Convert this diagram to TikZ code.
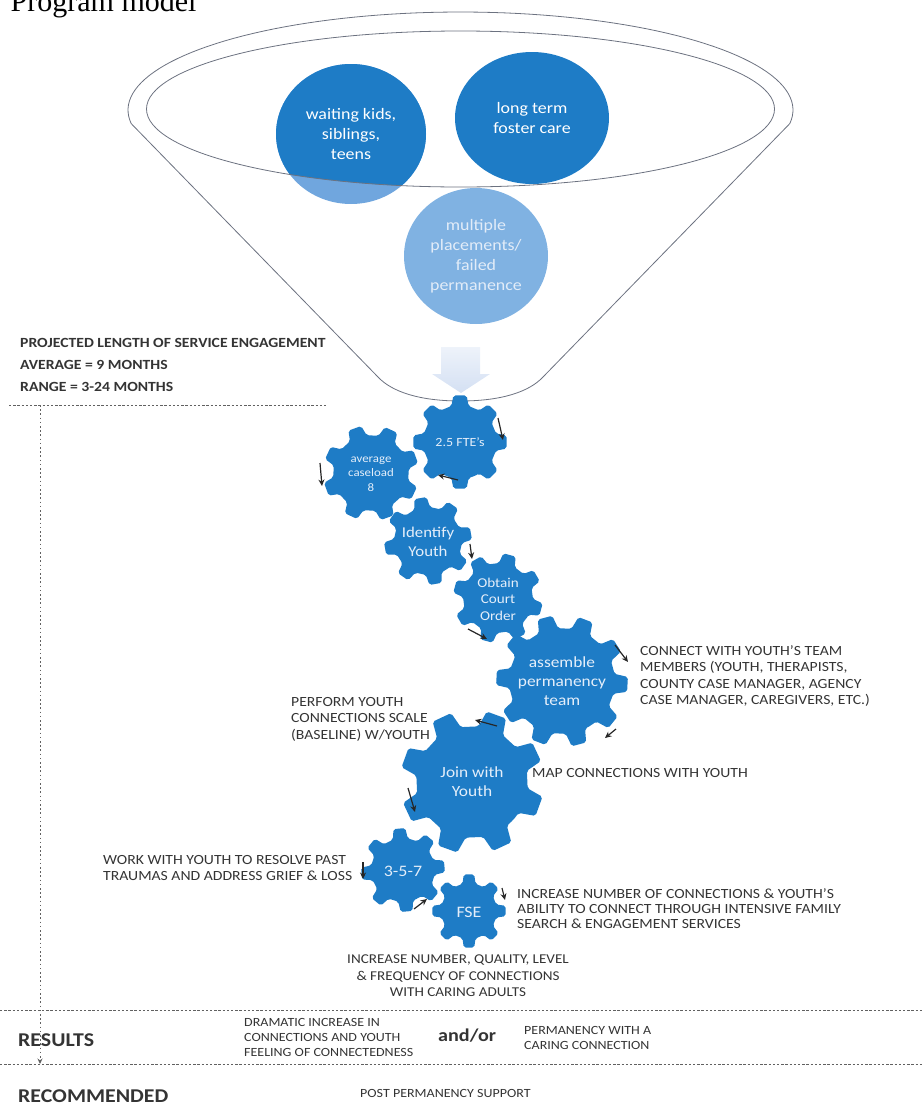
\documentclass[tikz,border=0pt]{standalone}
\usepackage{fontspec}
\setmainfont{Carlito}[FakeStretch=1.12]
\newfontfamily\titlefont{Liberation Serif}
\usetikzlibrary{calc,arrows.meta,shapes.geometric}

\definecolor{gearblue}{RGB}{30,124,198}
\definecolor{paleblue}{RGB}{112,166,222}
\definecolor{fadeblue}{RGB}{128,178,226}
\definecolor{fadetext}{RGB}{226,236,248}
\definecolor{geartext}{RGB}{228,238,250}
\definecolor{rimgray}{RGB}{108,114,128}
\definecolor{inkgray}{RGB}{52,52,52}
\definecolor{arrowpale}{RGB}{212,224,243}

% cog wheel: x, y, root radius, tip radius, teeth, rotation
\newcommand{\cogwheel}[6]{%
  \begin{scope}[shift={(#1,#2)}]
    \pgfmathsetmacro{\cogpitch}{360/#5}
    \fill[gearblue, rounded corners=2pt] ({#6-0.5*\cogpitch}:#3)
      \foreach \k in {1,...,#5}{
        -- ({#6+(\k-1)*\cogpitch-0.30*\cogpitch}:#3)
        -- ({#6+(\k-1)*\cogpitch-0.18*\cogpitch}:#4)
        -- ({#6+(\k-1)*\cogpitch+0.18*\cogpitch}:#4)
        -- ({#6+(\k-1)*\cogpitch+0.30*\cogpitch}:#3)
      } -- cycle;
  \end{scope}}

\tikzset{
  rim/.style={draw=rimgray, line width=0.8pt},
  blobtext/.style={inner sep=0pt, align=center, text=white,
    font=\fontsize{16}{20}\selectfont},
  gearlabel/.style={inner sep=0pt, align=center, text=geartext},
  note/.style={inner sep=0pt, align=left, text=inkgray,
    font=\fontsize{14}{16.5}\selectfont},
  smallnote/.style={inner sep=0pt, align=left, text=inkgray,
    font=\fontsize{12.5}{15}\selectfont},
  heading/.style={inner sep=0pt, text=inkgray,
    font=\bfseries\fontsize{19.5}{22}\selectfont},
  spin/.style={-{Stealth[length=6.5pt,width=6pt]}, line width=1.2pt, draw=black!85},
  sep/.style={draw=black!62, line width=0.9pt, dash pattern=on 2.4pt off 1.8pt},
}

\begin{document}
\begin{tikzpicture}[x=1pt,y=-1pt]
\useasboundingbox (0,0) rectangle (922,1106);

% caption line at the top edge
\node[anchor=base west, inner sep=0pt, font={\titlefont\fontsize{30}{30}\selectfont}]
  (title) at (-22,11) {1. Program model};

% ---------------- funnel ----------------
\draw[rim, line join=round]
  plot[domain=172:368, samples=90] ({460.5+332.5*cos(\x)},{110+98*sin(\x)})
  -- (543,377)
  .. controls (529,392) and (501,401) .. (460.5,401)
  .. controls (420,401) and (392,392) .. (378,377)
  -- cycle;

% groups that enter the funnel
\fill[paleblue] (351,134) ellipse[x radius=75, y radius=70];
\begin{scope}
  \clip (460.5,109) ellipse[x radius=314, y radius=78];
  \fill[gearblue] (351,134) ellipse[x radius=75, y radius=70];
\end{scope}
\node[ellipse, minimum width=150pt, minimum height=140pt, blobtext] (waiting)
  at (351,134) {waiting kids,\\siblings,\\teens};
\node[ellipse, minimum width=154pt, minimum height=132pt, fill=gearblue, blobtext]
  (longterm) at (532,118) {long term\\foster care};
\node[ellipse, minimum width=144pt, minimum height=136pt, fill=fadeblue, blobtext,
  text=fadetext] (multiple) at (476,256) {multiple\\placements/\\failed\\permanence};

% inner rim of the funnel mouth
\draw[rim] (460.5,109) ellipse[x radius=314, y radius=78];

% flow arrow inside the funnel
\shade[top color=arrowpale!40, bottom color=arrowpale]
  (441,347) -- (480,347) -- (480,374) -- (490,374) -- (461,393)
  -- (432,374) -- (441,374) -- cycle;

% ---------------- cog wheels ----------------
\cogwheel{460}{442}{37}{47}{8}{90}
\cogwheel{371}{473}{38}{48}{8}{70}
\cogwheel{428}{541}{34}{44}{8}{80}
\cogwheel{498}{598}{35}{45}{8}{60}
\cogwheel{562}{681}{53}{66}{10}{75}
\cogwheel{472}{782}{56}{72}{8}{65}
\cogwheel{403}{870}{32}{42}{8}{85}
\cogwheel{469}{911}{28}{37}{8}{90}

\node[gearlabel, font=\fontsize{12.5}{15}\selectfont] (fte) at (460,442) {2.5 FTE's};
\node[gearlabel, font=\fontsize{11.5}{14.5}\selectfont] (caseload) at (371,474) {average\\caseload\\8};
\node[gearlabel, font=\fontsize{15}{19}\selectfont] (identify) at (428,542) {Identify\\Youth};
\node[gearlabel, font=\fontsize{13.5}{16.5}\selectfont] (court) at (498,599) {Obtain\\Court\\Order};
\node[gearlabel, font=\fontsize{15.5}{19}\selectfont] (assemble) at (562,681) {assemble\\permanency\\team};
\node[gearlabel, font=\fontsize{15.5}{19}\selectfont] (join) at (472,782) {Join with\\Youth};
\node[gearlabel, font=\fontsize{16}{19}\selectfont] (three) at (403,871) {3-5-7};
\node[gearlabel, font=\fontsize{16}{19}\selectfont] (fse) at (469,912) {FSE};

% turning arrows beside the wheels
\draw[spin] ($(fte)+(38,-24)$) -- ($(fte)+(43,-2)$);
\draw[spin] ($(fte)+(-2,38)$) -- ($(fte)+(-22,33)$);
\draw[spin] ($(caseload)+(-51,-11)$) -- ($(caseload)+(-49,12)$);
\draw[spin] ($(identify)+(42,2)$) -- ($(identify)+(44,17)$);
\draw[spin] ($(court)+(-30,30)$) -- ($(court)+(-11,40)$);
\draw[spin] ($(assemble)+(53,-36)$) -- ($(assemble)+(66,-19)$);
\draw[spin] ($(assemble)+(54,48)$) -- ($(assemble)+(43,57)$);
\draw[spin] ($(join)+(25,-56)$) -- ($(join)+(3,-62)$);
\draw[spin] ($(join)+(-64,6)$) -- ($(join)+(-57,30)$);
\draw[spin] ($(three)+(-40,-9)$) -- ($(three)+(-40,8)$);
\draw[spin] ($(three)+(11,38)$) -- ($(three)+(24,28)$);
\draw[spin] ($(fse)+(33,-24)$) -- ($(fse)+(36,-12)$);

% ---------------- notes ----------------
\node[anchor=west, inner sep=0pt, align=left, text=inkgray,
  font=\bfseries\fontsize{14}{22}\selectfont] (length) at (20,365)
  {PROJECTED LENGTH OF SERVICE ENGAGEMENT\\AVERAGE = 9 MONTHS\\RANGE = 3-24 MONTHS};

\node[note, anchor=west] (teamnote) at (640,676)
  {CONNECT WITH YOUTH'S TEAM\\MEMBERS (YOUTH, THERAPISTS,\\COUNTY CASE MANAGER, AGENCY\\CASE MANAGER, CAREGIVERS, ETC.)};
\node[note, anchor=west] (scalenote) at (291,719)
  {PERFORM YOUTH\\CONNECTIONS SCALE\\(BASELINE) W/YOUTH};
\node[note, anchor=west] (mapnote) at (532,773) {MAP CONNECTIONS WITH YOUTH};
\node[note, anchor=west] (traumanote) at (103,868)
  {WORK WITH YOUTH TO RESOLVE PAST\\TRAUMAS AND ADDRESS GRIEF \& LOSS};
\node[note, anchor=west, font=\fontsize{14}{15}\selectfont] (fsenote) at (517,909)
  {INCREASE NUMBER OF CONNECTIONS \& YOUTH'S\\ABILITY TO CONNECT THROUGH INTENSIVE FAMILY\\SEARCH \& ENGAGEMENT SERVICES};
\node[note, align=center, font=\fontsize{13.5}{16.5}\selectfont] (qualitynote) at (458,976)
  {INCREASE NUMBER, QUALITY, LEVEL\\\& FREQUENCY OF CONNECTIONS\\WITH CARING ADULTS};

% ---------------- time line and bands ----------------
\coordinate (sepA-l) at (9,405);
\coordinate (sepA-r) at (328,405);
\coordinate (sepB-l) at (0,1010);
\coordinate (sepB-r) at (922,1010);
\coordinate (sepC-l) at (0,1064);
\coordinate (sepC-r) at (922,1064);
\coordinate (tl-top) at (40,405);
\coordinate (tl-end) at (40,1064);
\draw[sep] (sepA-l) -- (sepA-r);
\draw[sep] (sepB-l) -- (sepB-r);
\draw[sep] (sepC-l) -- (sepC-r);
\draw[draw=black!62, line width=0.8pt, dash pattern=on 1.6pt off 2.6pt,
  -{Stealth[length=5.5pt,width=5pt]}] (tl-top) -- (tl-end);

\node[heading, anchor=west] (results) at (18,1040) {RESULTS};
\node[smallnote, anchor=west] (dramatic) at (244,1037)
  {DRAMATIC INCREASE IN\\CONNECTIONS AND YOUTH\\FEELING OF CONNECTEDNESS};
\node[anchor=west, inner sep=0pt, text=inkgray, font=\bfseries\fontsize{18}{20}\selectfont]
  (andor) at (438,1036) {and/or};
\node[smallnote, anchor=west] (permanency) at (524,1038)
  {PERMANENCY WITH A\\CARING CONNECTION};

\node[heading, anchor=west] (recommended) at (18,1096) {RECOMMENDED};
\node[smallnote, anchor=west] (post) at (360,1093) {POST PERMANENCY SUPPORT};
\end{tikzpicture}
\end{document}
